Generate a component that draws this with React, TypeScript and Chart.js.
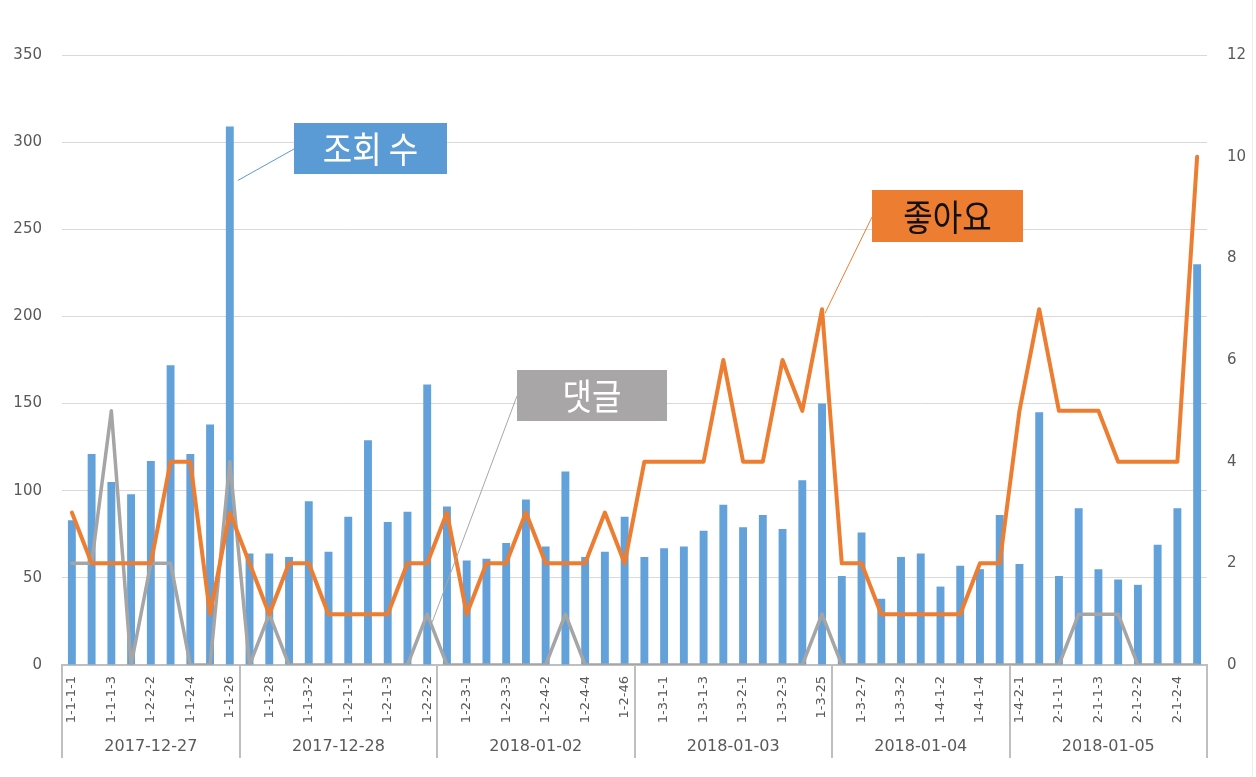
import React, { useEffect, useRef } from "react";
import { Chart, registerables } from "chart.js";

Chart.register(...registerables);

// ---- data ----
const groupDates = ["2017-12-27", "2017-12-28", "2018-01-02", "2018-01-03", "2018-01-04", "2018-01-05"];
const groupSizes = [9, 10, 10, 10, 9, 10];

// labels shown on the axis (every other category)
const shownCodes = [
  "1-1-1-1", "1-1-1-3", "1-2-2-2", "1-1-2-4", "1-1-26",
  "1-1-28", "1-1-3-2", "1-2-1-1", "1-2-1-3", "1-2-2-2",
  "1-2-3-1", "1-2-3-3", "1-2-4-2", "1-2-4-4", "1-2-46",
  "1-3-1-1", "1-3-1-3", "1-3-2-1", "1-3-2-3", "1-3-25",
  "1-3-2-7", "1-3-3-2", "1-4-1-2", "1-4-1-4",
  "1-4-2-1", "2-1-1-1", "2-1-1-3", "2-1-2-2", "2-1-2-4",
];

// 조회 수 (views) — left axis
const views = [
  83, 121, 105, 98, 117, 172, 121, 138, 309,
  64, 64, 62, 94, 65, 85, 129, 82, 88, 161,
  91, 60, 61, 70, 95, 68, 111, 62, 65, 85,
  62, 67, 68, 77, 92, 79, 86, 78, 106, 150,
  51, 76, 38, 62, 64, 45, 57, 55, 86,
  58, 145, 51, 90, 55, 49, 46, 69, 90, 230,
];

// 좋아요 (likes) — right axis
const likes = [
  3, 2, 2, 2, 2, 4, 4, 1, 3,
  2, 1, 2, 2, 1, 1, 1, 1, 2, 2,
  3, 1, 2, 2, 3, 2, 2, 2, 3, 2,
  4, 4, 4, 4, 6, 4, 4, 6, 5, 7,
  2, 2, 1, 1, 1, 1, 1, 2, 2,
  5, 7, 5, 5, 5, 4, 4, 4, 4, 10,
];

// 댓글 (comments) — right axis
const comments = [
  2, 2, 5, 0, 2, 2, 0, 0, 4,
  0, 1, 0, 0, 0, 0, 0, 0, 0, 1,
  0, 0, 0, 0, 0, 0, 1, 0, 0, 0,
  0, 0, 0, 0, 0, 0, 0, 0, 0, 1,
  0, 0, 0, 0, 0, 0, 0, 0, 0,
  0, 0, 0, 1, 1, 1, 0, 0, 0, 0,
];

const leftTicks = [0, 50, 100, 150, 200, 250, 300, 350];
const rightTicks = [0, 2, 4, 6, 8, 10, 12];

const total = groupSizes.reduce((a, b) => a + b, 0);
const categories: string[] = Array.from({ length: total }, (_, i) => (i % 2 === 0 ? shownCodes[i / 2] : ""));

const BLUE = "#5B9BD5";
const ORANGE = "#ED7D31";
const GRAY = "#A5A5A5";
const TEXT = "#595959";
const AXIS = "#BFBFBF";

const groupPlugin = {
  id: "groupAxis",
  afterDraw(chart: any) {
    const ctx = chart.ctx;
    const x = chart.scales.x;
    const area = chart.chartArea;
    const step = x.getPixelForValue(1) - x.getPixelForValue(0);
    const left0 = x.getPixelForValue(0) - step / 2;
    ctx.save();
    ctx.strokeStyle = AXIS;
    ctx.lineWidth = 2;
    let start = 0;
    const bounds: number[] = [left0];
    groupSizes.forEach((n) => {
      start += n;
      bounds.push(x.getPixelForValue(start - 1) + step / 2);
    });
    bounds.forEach((bx) => {
      ctx.beginPath();
      ctx.moveTo(Math.round(bx), area.bottom);
      ctx.lineTo(Math.round(bx), area.bottom + 93);
      ctx.stroke();
    });
    ctx.fillStyle = TEXT;
    ctx.font = '16px "DejaVu Sans"';
    ctx.textAlign = "center";
    ctx.textBaseline = "middle";
    groupDates.forEach((d, i) => {
      ctx.fillText(d, (bounds[i] + bounds[i + 1]) / 2, area.bottom + 82);
    });
    // faint right border of picture
    ctx.strokeStyle = "#EDEDED";
    ctx.lineWidth = 1;
    ctx.beginPath();
    ctx.moveTo(1252.5, 0);
    ctx.lineTo(1252.5, 777);
    ctx.stroke();
    ctx.restore();
  },
};

const calloutPlugin = {
  id: "callouts",
  afterDatasetsDraw(chart: any) {
    const ctx = chart.ctx;
    const x = chart.scales.x;
    const y = chart.scales.y;
    const y1 = chart.scales.y1;
    const items = [
      {
        text: "조회 수", fill: BLUE, color: "#FFFFFF", box: [294, 123, 153, 51],
        from: [294, 149], to: [x.getPixelForValue(8) + 8, y.getPixelForValue(278)],
      },
      {
        text: "좋아요", fill: ORANGE, color: "#111111", box: [872, 190, 151, 52],
        from: [872, 217], to: [x.getPixelForValue(38) + 3, y1.getPixelForValue(7) + 4],
      },
      {
        text: "댓글", fill: "#A8A6A6", color: "#FFFFFF", box: [517, 370, 150, 51],
        from: [517, 396], to: [x.getPixelForValue(18) + 5, y1.getPixelForValue(1) + 8],
      },
    ];
    ctx.save();
    items.forEach((it) => {
      ctx.strokeStyle = it.fill;
      ctx.lineWidth = 1;
      ctx.beginPath();
      ctx.moveTo(it.from[0], it.from[1]);
      ctx.lineTo(it.to[0], it.to[1]);
      ctx.stroke();
      const [bx, by, bw, bh] = it.box;
      ctx.fillStyle = it.fill;
      ctx.fillRect(bx, by, bw, bh);
      ctx.fillStyle = it.color;
      ctx.font = '32px "Noto Sans CJK KR"';
      ctx.textAlign = "center";
      ctx.textBaseline = "middle";
      ctx.save();
      ctx.translate(bx + bw / 2, by + bh / 2 + 1);
      ctx.scale(1, 1.15);
      ctx.fillText(it.text, 0, 0);
      ctx.restore();
    });
    ctx.restore();
  },
};

export default function App() {
  const ref = useRef<HTMLCanvasElement | null>(null);

  useEffect(() => {
    if (!ref.current) return;
    const chart = new Chart(ref.current, {
      type: "bar",
      data: {
        labels: categories,
        datasets: [
          {
            type: "line",
            label: "좋아요",
            data: likes,
            yAxisID: "y1",
            borderColor: ORANGE,
            borderWidth: 4,
            borderJoinStyle: "round",
            borderCapStyle: "round",
            pointRadius: 0,
            tension: 0,
            order: 0,
          },
          {
            type: "line",
            label: "댓글",
            data: comments,
            yAxisID: "y1",
            borderColor: GRAY,
            borderWidth: 3.5,
            borderJoinStyle: "round",
            borderCapStyle: "round",
            pointRadius: 0,
            tension: 0,
            order: 1,
          },
          {
            type: "bar",
            label: "조회 수",
            data: views,
            yAxisID: "y",
            backgroundColor: "#62A1DA",
            categoryPercentage: 1,
            barPercentage: 0.4,
            order: 2,
          },
        ],
      },
      options: {
        animation: false,
        responsive: true,
        maintainAspectRatio: false,
        layout: { padding: { top: 55, left: 0, right: 0, bottom: 0 } },
        plugins: { legend: { display: false }, tooltip: { enabled: false }, title: { display: false } },
        scales: {
          x: {
            offset: true,
            grid: { display: false, drawTicks: false },
            border: { display: true, color: AXIS, width: 2 },
            ticks: {
              autoSkip: false,
              minRotation: 90,
              maxRotation: 90,
              padding: 11,
              color: TEXT,
              font: { family: "DejaVu Sans", size: 13 },
            },
            afterFit: (s: any) => { s.height = 112; },
          },
          y: {
            position: "left",
            min: 0,
            max: 350,
            afterBuildTicks: (s: any) => { s.ticks = leftTicks.map((v) => ({ value: v })); },
            grid: { color: "#D9D9D9", lineWidth: 1, drawTicks: false },
            border: { display: false },
            ticks: { padding: 20, color: TEXT, font: { family: "DejaVu Sans", size: 15 } },
            afterFit: (s: any) => { s.width = 62; },
          },
          y1: {
            position: "right",
            min: 0,
            max: 12,
            afterBuildTicks: (s: any) => { s.ticks = rightTicks.map((v) => ({ value: v })); },
            grid: { display: false, drawTicks: false },
            border: { display: false },
            ticks: { padding: 20, color: TEXT, font: { family: "DejaVu Sans", size: 15 } },
            afterFit: (s: any) => { s.width = 49; },
          },
        },
      },
      plugins: [groupPlugin, calloutPlugin],
    });
    return () => chart.destroy();
  }, []);

  return (
    <div style={{ position: "fixed", left: 0, top: 0, width: 1256, height: 777, background: "#FFFFFF" }}>
      <canvas ref={ref} />
    </div>
  );
}
